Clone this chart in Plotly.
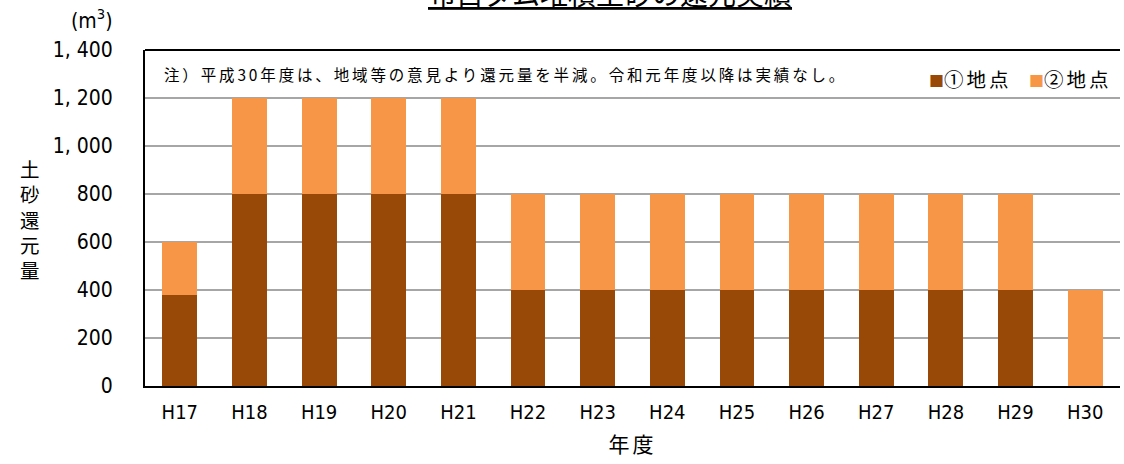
import plotly.graph_objects as go

years = ["H17", "H18", "H19", "H20", "H21", "H22", "H23", "H24", "H25", "H26", "H27", "H28", "H29", "H30"]
site1 = [380, 800, 800, 800, 800, 400, 400, 400, 400, 400, 400, 400, 400, 0]
site2 = [220, 400, 400, 400, 400, 400, 400, 400, 400, 400, 400, 400, 400, 400]
tick_vals = [0, 200, 400, 600, 800, 1000, 1200, 1400]
tick_text = ["0", "200", "400", "600", "800", "1, 000", "1, 200", "1, 400"]
names = ["①地点", "②地点"]
colors = ["#984807", "#F79646"]
ytitle_chars = ["土", "砂", "還", "元", "量"]

FONT = "DejaVu Sans Condensed, Liberation Sans Narrow, Noto Sans CJK JP, sans-serif"
JP = "Noto Sans CJK JP, sans-serif"

H_PLOT = 336  # plot height in px (464 - 50 - 78)

fig = go.Figure()
fig.add_trace(go.Bar(x=years, y=site1, name=names[0], marker=dict(color=colors[0], line=dict(width=0))))
fig.add_trace(go.Bar(x=years, y=site2, name=names[1], marker=dict(color=colors[1], line=dict(width=0))))

fig.update_layout(
    width=1124, height=464,
    barmode="stack", bargap=0.5,
    paper_bgcolor="white", plot_bgcolor="white",
    margin=dict(l=145, r=4, t=50, b=78, autoexpand=False),
    font=dict(family=FONT, color="black", size=18),
    showlegend=False,
)
fig.update_xaxes(showline=True, linecolor="black", linewidth=2, mirror=False, automargin=False,
                 ticks="", tickfont=dict(family=FONT, size=20), ticklabelstandoff=7,
                 title=dict(text="<span style='letter-spacing:3px'>年度</span>",
                            font=dict(family=JP, size=21), standoff=14))
fig.update_yaxes(range=[0, 1400], tickvals=tick_vals, ticktext=tick_text, automargin=False,
                 showgrid=True, gridcolor="#A6A6A6", gridwidth=2,
                 showline=True, linecolor="black", linewidth=2, ticks="",
                 tickfont=dict(family=FONT, size=21), ticklabelstandoff=26,
                 zeroline=False)
# top border line
fig.add_shape(type="line", xref="paper", yref="paper", x0=0, x1=1, y0=1, y1=1,
              line=dict(color="black", width=2))

fig.add_annotation(text="<u>布目ダム堆積土砂の還元実績</u>", xref="paper", yref="paper",
                   x=0.477, y=1.0, yshift=35, xanchor="center", yanchor="bottom", showarrow=False,
                   font=dict(family=JP, size=28, color="black"))
fig.add_annotation(text="(m<sup>3</sup>)", xref="paper", yref="paper", x=-0.054, y=(386 - 19) / H_PLOT,
                   xanchor="center", yanchor="middle", showarrow=False,
                   font=dict(family=FONT, size=21, color="black"))
fig.add_annotation(text="<br>".join(ytitle_chars), xref="paper", yref="paper", x=-0.118,
                   y=(386 - 219) / H_PLOT, xanchor="center", yanchor="middle", showarrow=False,
                   font=dict(family=JP, size=19.5, color="black"))
fig.add_annotation(text="<span style='letter-spacing:2.85px'>注）平成30年度は、地域等の意見より還元量を半減。令和元年度以降は実績なし。</span>",
                   xref="paper", yref="paper", x=0.017, y=(386 - 74) / H_PLOT, xanchor="left", yanchor="middle",
                   showarrow=False, font=dict(family=JP, size=15.5, color="black"))
legend_text = "    ".join(
    f"<span style='color:{c};font-size:15px'>■</span><span style='letter-spacing:3px'>{n}</span>"
    for n, c in zip(names, colors)
)
fig.add_annotation(text=legend_text, xref="paper", yref="paper", x=0.9935, y=(386 - 78) / H_PLOT,
                   xanchor="right", yanchor="middle", showarrow=False,
                   font=dict(family=JP, size=19.5, color="black"))

fig.write_html("out.html", config={"displayModeBar": False},
               post_script="document.body.style.margin='0';document.body.style.padding='0';"
                           "document.documentElement.style.overflow='hidden';")
